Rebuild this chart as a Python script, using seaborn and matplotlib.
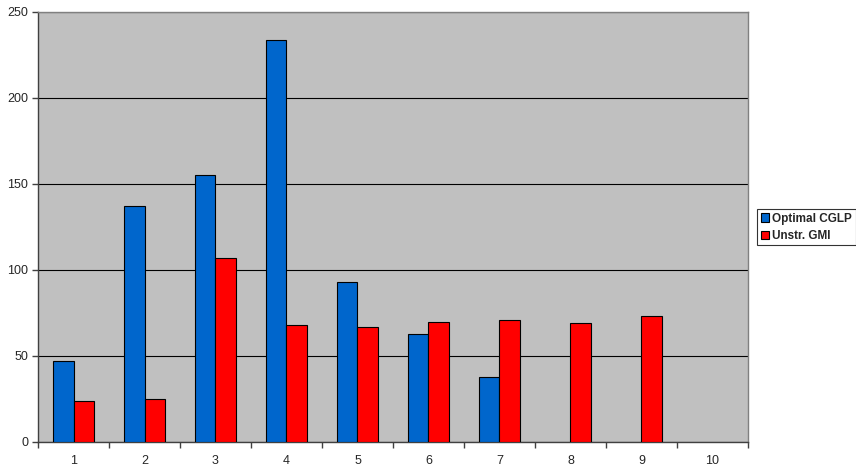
import numpy as np
import pandas as pd
import matplotlib
matplotlib.use("Agg")
import matplotlib.pyplot as plt
import seaborn as sns

categories = ["1", "2", "3", "4", "5", "6", "7", "8", "9", "10"]
optimal_cglp = [47, 137, 155, 234, 93, 63, 38, np.nan, np.nan, np.nan]
unstr_gmi = [24, 25, 107, 68, 67, 70, 71, 69, 73, np.nan]
series_names = ["Optimal CGLP", "Unstr. GMI"]
y_ticks = [0, 50, 100, 150, 200, 250]

df = pd.DataFrame({
    "category": categories * 2,
    "value": optimal_cglp + unstr_gmi,
    "series": [series_names[0]] * len(categories) + [series_names[1]] * len(categories),
})

sns.set_style("white")
plt.rcParams["font.family"] = ["Liberation Sans", "DejaVu Sans"]

fig = plt.figure(figsize=(8.56, 4.66), dpi=100)
ax = fig.add_axes([38 / 856, 24 / 466, 710 / 856, 430 / 466])
ax.set_facecolor("#C0C0C0")

sns.barplot(data=df, x="category", y="value", hue="series", order=categories,
            hue_order=series_names, palette=["#0066CC", "#FF0000"],
            width=0.571, edgecolor="black", linewidth=0.8, saturation=1,
            errorbar=None, ax=ax, zorder=3)

ax.set_xlim(-0.5, len(categories) - 0.5)
ax.set_ylim(0, 250)
ax.set_yticks(y_ticks)
ax.yaxis.grid(True, color="black", linewidth=0.8, zorder=1)
ax.set_axisbelow(True)
ax.set_xlabel("")
ax.set_ylabel("")

# category separators as tick marks on the x axis
ax.set_xticks(np.arange(-0.5, len(categories)), minor=True)
ax.tick_params(axis="x", which="both", bottom=True)
ax.tick_params(axis="y", which="major", left=True)
ax.tick_params(axis="x", which="major", length=0, labelsize=9, pad=9)
ax.tick_params(axis="x", which="minor", length=4, width=1, color="#404040", direction="out")
ax.tick_params(axis="y", which="major", length=4, width=1, color="#404040",
               direction="out", labelsize=9, pad=3)

for side in ["left", "bottom"]:
    ax.spines[side].set_color("#404040")
    ax.spines[side].set_linewidth(1.0)
for side in ["top", "right"]:
    ax.spines[side].set_color("#808080")
    ax.spines[side].set_linewidth(1.0)

handles, labels = ax.get_legend_handles_labels()
ax.get_legend().remove()
leg = fig.legend(handles, labels, loc="upper left",
                 bbox_to_anchor=(757 / 856, 1 - 209 / 466),
                 prop={"weight": "bold", "size": 8.5},
                 frameon=True, fancybox=False, edgecolor="black",
                 handlelength=0.7, handleheight=0.7, handletextpad=0.3,
                 borderpad=0.3, labelspacing=0.45, borderaxespad=0)
leg.get_frame().set_linewidth(0.8)

fig.savefig("out.png", dpi=100, facecolor="white")
